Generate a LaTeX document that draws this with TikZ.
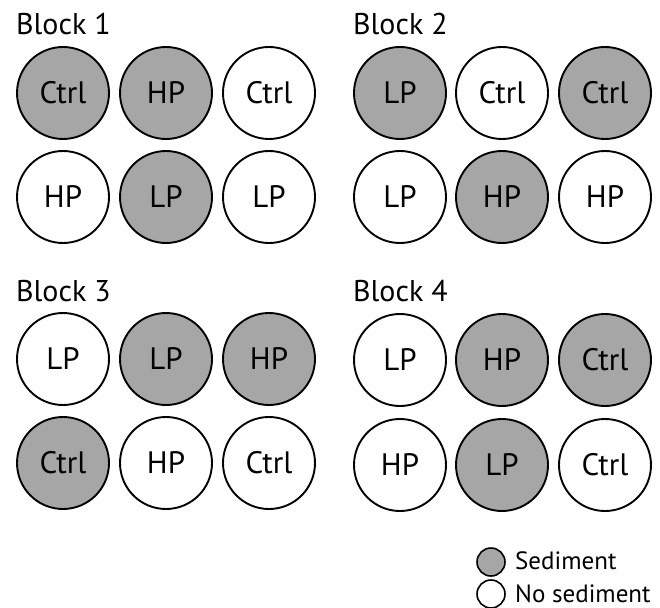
\documentclass[tikz,border=0pt]{standalone}
\usepackage{fontspec}
\setmainfont{PT Sans}
\definecolor{sedgray}{RGB}{166,166,166}
\begin{document}
\begin{tikzpicture}[x=1bp,y=-1bp,
  pot/.style={circle,draw=black,line width=1.9bp,minimum size=92bp,inner sep=0pt,
    font=\fontsize{31bp}{34bp}\selectfont},
  sed/.style={pot,fill=sedgray},
  nosed/.style={pot,fill=white},
  blocklabel/.style={anchor=base west,inner sep=0pt,font=\fontsize{30bp}{34bp}\selectfont},
  legpot/.style={circle,draw=black,line width=1.6bp,minimum size=28bp,inner sep=0pt},
  legtext/.style={anchor=base west,inner sep=0pt,font=\fontsize{25bp}{28bp}\selectfont}]
\useasboundingbox (0,0) rectangle (660,608);
% Block 1
\node[blocklabel] (lab1) at (16,35) {Block 1};
\node[sed]   (b1a) at (63,93)  {Ctrl};
\node[sed]   (b1b) at (166,93) {HP};
\node[nosed] (b1c) at (269,93) {Ctrl};
\node[nosed] (b1d) at (63,197) {HP};
\node[sed]   (b1e) at (166,197){LP};
\node[nosed] (b1f) at (269,197){LP};
% Block 2
\node[blocklabel] (lab2) at (353,35) {Block 2};
\node[sed]   (b2a) at (400,93)  {LP};
\node[nosed] (b2b) at (502,93)  {Ctrl};
\node[sed]   (b2c) at (605,93)  {Ctrl};
\node[nosed] (b2d) at (400,197) {LP};
\node[sed]   (b2e) at (502,197) {HP};
\node[nosed] (b2f) at (605,197) {HP};
% Block 3
\node[blocklabel] (lab3) at (16,301) {Block 3};
\node[nosed] (b3a) at (63,359)  {LP};
\node[sed]   (b3b) at (166,359) {LP};
\node[sed]   (b3c) at (269,359) {HP};
\node[sed]   (b3d) at (63,463)  {Ctrl};
\node[nosed] (b3e) at (166,463) {HP};
\node[nosed] (b3f) at (269,463) {Ctrl};
% Block 4
\node[blocklabel] (lab4) at (353,301) {Block 4};
\node[nosed] (b4a) at (400,360) {LP};
\node[sed]   (b4b) at (502,360) {HP};
\node[sed]   (b4c) at (605,360) {Ctrl};
\node[nosed] (b4d) at (400,465) {HP};
\node[sed]   (b4e) at (502,465) {LP};
\node[nosed] (b4f) at (605,465) {Ctrl};
% Legend
\node[legpot,fill=sedgray] (leg1) at (491,562) {};
\node[legpot,fill=white]   (leg2) at (491,594) {};
\node[legtext] (legt1) at (515,569) {Sediment};
\node[legtext] (legt2) at (515,602) {No sediment};
\end{tikzpicture}
\end{document}
